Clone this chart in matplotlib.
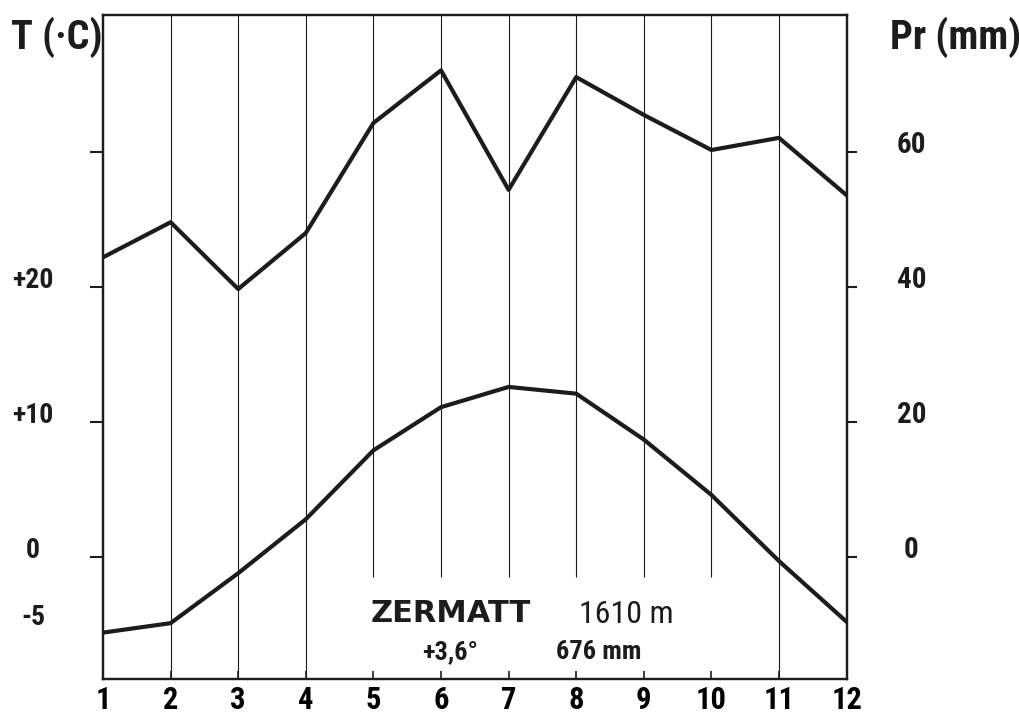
# climate diagram for Zermatt: temperature and precipitation by month
import matplotlib.pyplot as plt
from matplotlib.transforms import blended_transform_factory

months = list(range(1, 13))
month_labels = [str(m) for m in months]

# monthly mean temperature (deg C) and precipitation (mm)
temp = [-5.6, -4.9, -1.2, 2.8, 7.9, 11.1, 12.6, 12.1, 8.7, 4.6, -0.3, -4.8]
precip = [44.4, 49.6, 39.7, 48.0, 64.3, 72.1, 54.4, 71.1, 65.5, 60.3, 62.1, 53.6]

temp_ticks = [0, 10, 20, 30]
temp_labels = [(20, '+20'), (10, '+10'), (0, '0'), (-5, '-5')]
precip_ticks = [0, 20, 40, 60]
precip_labels = ['0', '20', '40', '60']

narrow = ['Roboto Condensed', 'Roboto', 'DejaVu Sans']
ink = '#1c1c1c'

fig = plt.figure(figsize=(10.2, 7.15), dpi=100)
ax = fig.add_axes([0.101, 0.0503, 0.729, 0.9287])
ax.set_xlim(1, 12)
ax.set_ylim(-9.04, 40.15)
ax2 = ax.twinx()
ax2.set_ylim(-18.08, 80.3)

for a in (ax, ax2):
    for s in a.spines.values():
        s.set_linewidth(1.6)
        s.set_color(ink)

# month grid lines, broken in the middle months to leave room for the title
for m in months[1:-1]:
    lo = -1.5 if 5 <= m <= 10 else -9.04
    ax.vlines(m, lo, 40.15, color=ink, lw=0.8)

ax.plot(months, temp, color=ink, lw=3.0, solid_joinstyle='round')
ax2.plot(months, precip, color=ink, lw=3.0, solid_joinstyle='round')

ax.set_xticks(months)
ax.set_xticklabels(month_labels, family=narrow, fontweight='bold', fontsize=22)
ax.tick_params(axis='x', direction='in', length=6, width=1.2, pad=4, color=ink)

ax.set_yticks(temp_ticks)
ax.set_yticklabels([''] * len(temp_ticks))
ax.tick_params(axis='y', direction='out', length=9.5, width=1.5, color=ink)
ax2.set_yticks(precip_ticks)
ax2.set_yticklabels([''] * len(precip_ticks))
ax2.tick_params(axis='y', direction='out', length=7, width=1.5, color=ink)

tl = blended_transform_factory(ax.transAxes, ax.transData)
for v, lab in temp_labels:
    ax.text(-0.094, v + 0.5, lab, transform=tl, ha='center', va='center',
            family=narrow, fontweight='bold', fontsize=20, color=ink)
tr = blended_transform_factory(ax2.transAxes, ax2.transData)
for v, lab in zip(precip_ticks, precip_labels):
    ax2.text(1.087, v + 1.0, lab, transform=tr, ha='center', va='center',
             family=narrow, fontweight='bold', fontsize=21, color=ink)

fig.text(0.056, 0.948, 'T (·C)', ha='center', va='center', family=narrow,
         fontweight='heavy', fontsize=29, color=ink)
fig.text(0.937, 0.948, 'Pr (mm)', ha='center', va='center', family=narrow,
         fontweight='heavy', fontsize=29, color=ink)

fig.text(0.442, 0.142, 'ZERMATT', ha='center', va='center', family='DejaVu Sans',
         fontweight='bold', fontsize=22, color=ink)
fig.text(0.614, 0.140, '1610 m', ha='center', va='center', family=narrow,
         fontsize=23, color=ink)
fig.text(0.441, 0.088, '+3,6°', ha='center', va='center', family=narrow,
         fontweight='bold', fontsize=19, color=ink)
fig.text(0.587, 0.088, '676 mm', ha='center', va='center', family=narrow,
         fontweight='bold', fontsize=19, color=ink)

fig.savefig('out.png', dpi=100)
